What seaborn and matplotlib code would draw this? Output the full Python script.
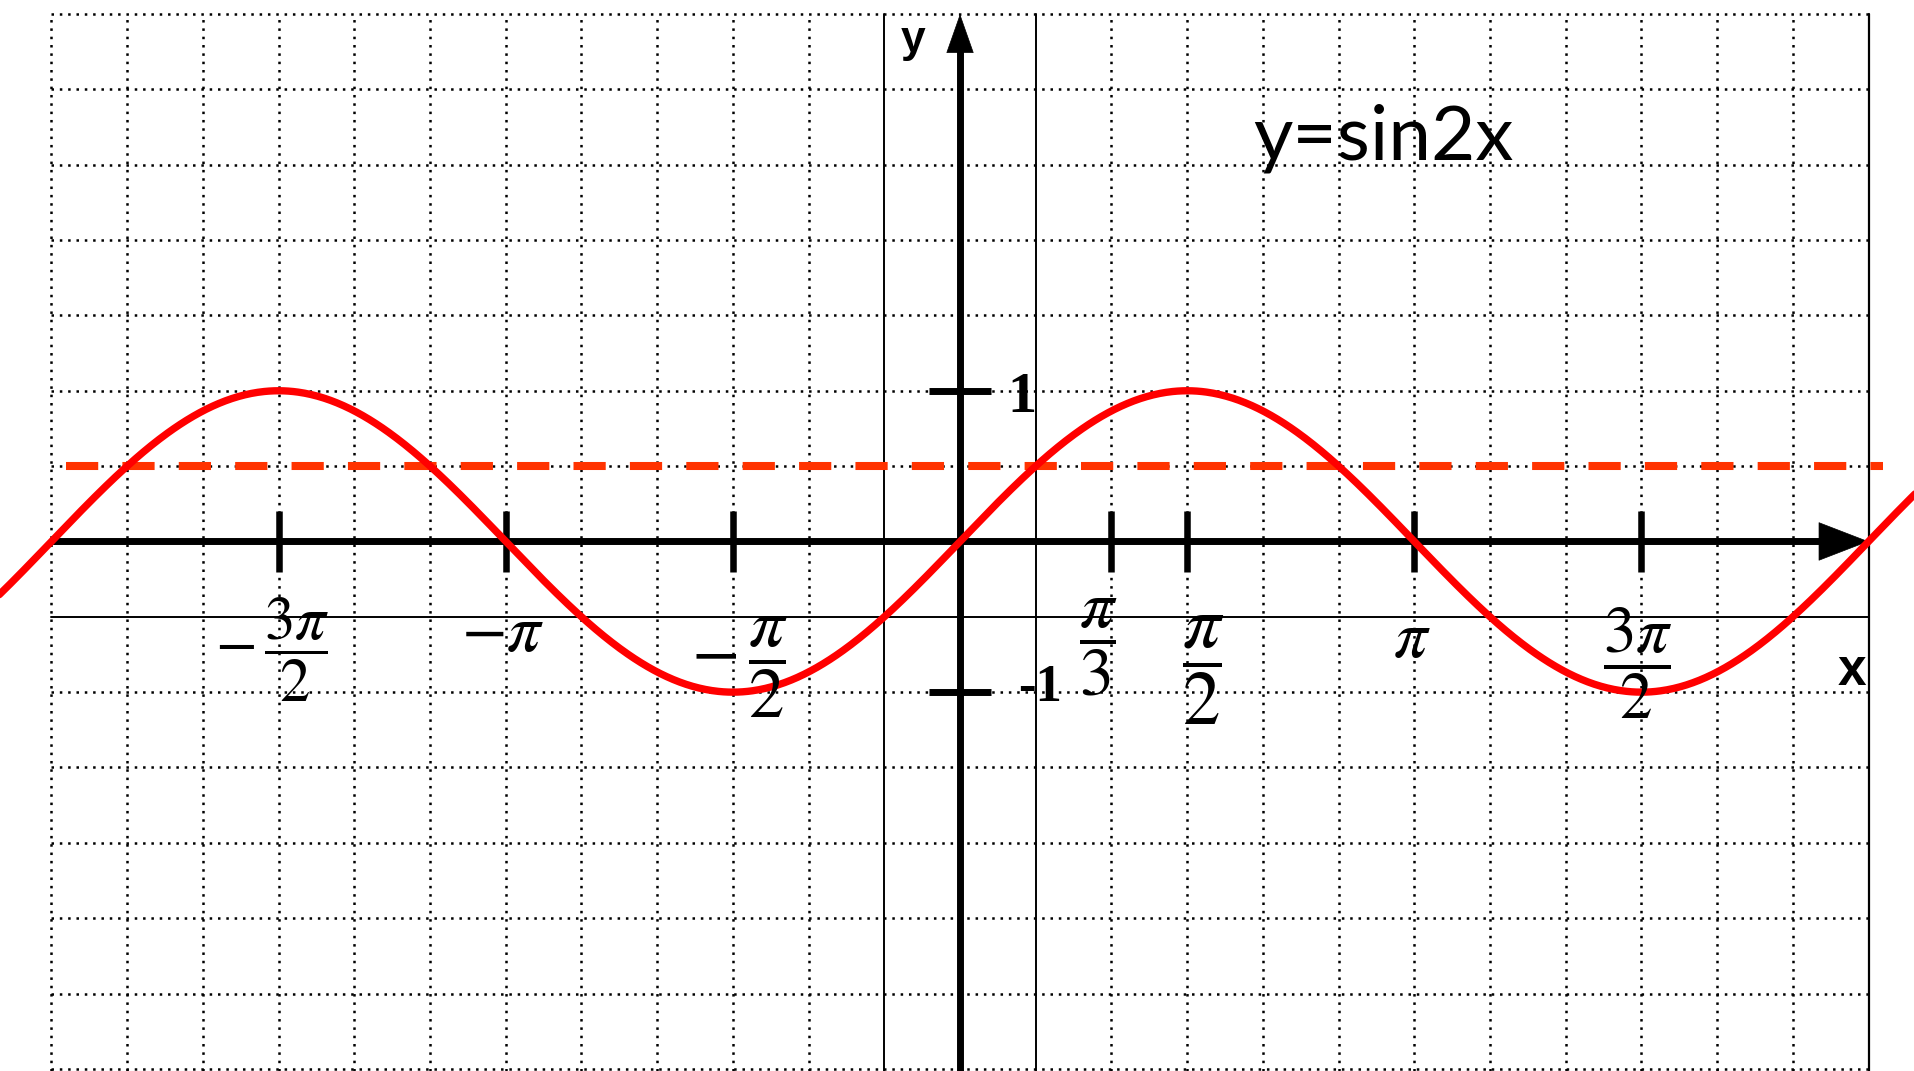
import numpy as np
import pandas as pd
import matplotlib
matplotlib.use("Agg")
import matplotlib.pyplot as plt
import seaborn as sns

# ---------------- data ----------------
PI = np.pi
x_tick_positions = [-3 * PI / 2, -PI, -PI / 2, PI / 3, PI / 2, PI, 3 * PI / 2]
x_tick_labels = [r'$-\,\dfrac{3\pi}{2}$', r'$-\pi$', r'$-\,\dfrac{\pi}{2}$', r'$\dfrac{\pi}{3}$',
                 r'$\dfrac{\pi}{2}$', r'$\pi$', r'$\dfrac{3\pi}{2}$']
y_tick_positions = [1, -1]
y_tick_labels = ['1', '-1']
level_value = 0.5                     # dashed horizontal line y = 1/2
title_text = 'y=sin2x'
curve_x = np.linspace(-6.7, 6.7, 1200)
curve_y = np.sin(curve_x)             # the plotted sine curve
grid_x_step = PI / 6
grid_y_step = 0.5
grid_x_range = (-2 * PI, 2 * PI)
grid_y_range = (-3.5, 3.5)

# ---------------- style ----------------
sns.set_style("white")
plt.rcParams['font.family'] = ['DejaVu Sans']
plt.rcParams['mathtext.fontset'] = 'stix'

XMIN, XMAX = -6.639, 6.604
YMIN, YMAX = -3.514, 3.593

fig = plt.figure(figsize=(19.15, 10.71), dpi=100)
ax = fig.add_axes([0, 0, 1, 1])

dot = (0, (1, 2.33))
# dotted grid
gx = np.arange(-12, 13) * grid_x_step
gy = np.arange(-7, 8) * grid_y_step
solid_x = [-PI / 6, PI / 6]
for xv in gx:
    if abs(xv) < 1e-9 or any(abs(xv - s) < 1e-9 for s in solid_x) or abs(xv - 2 * PI) < 1e-9:
        continue
    ax.plot([xv, xv], [YMIN, grid_y_range[1]], color='black', lw=1.8, linestyle=dot, zorder=1)
for yv in gy:
    if abs(yv) < 1e-9 or abs(yv + 0.5) < 1e-9:
        continue
    ax.plot([grid_x_range[0], grid_x_range[1]], [yv, yv], color='black', lw=1.8, linestyle=dot, zorder=1)

# thin solid lines
for s in solid_x:
    ax.plot([s, s], [YMIN, grid_y_range[1]], color='black', lw=1.4, zorder=2)
ax.plot([2 * PI, 2 * PI], [YMIN, grid_y_range[1]], color='black', lw=1.6, zorder=2)
ax.plot([grid_x_range[0], grid_x_range[1]], [-0.5, -0.5], color='black', lw=1.4, zorder=2)

# main axes (thick) with arrows
ax.plot([-2 * PI, 2 * PI - 0.30], [0, 0], color='black', lw=5.0, solid_capstyle='butt', zorder=3)
ax.plot([0, 0], [YMIN, 3.5 - 0.22], color='black', lw=5.0, solid_capstyle='butt', zorder=3)
ax.annotate('', xy=(2 * PI, 0), xytext=(2 * PI - 0.5, 0),
            arrowprops=dict(arrowstyle='-|>,head_length=35,head_width=13.5', mutation_scale=1,
                            lw=0.5, color='black', shrinkA=0, shrinkB=0), zorder=3)
ax.annotate('', xy=(0, 3.5), xytext=(0, 3.0),
            arrowprops=dict(arrowstyle='-|>,head_length=27,head_width=9.5', mutation_scale=1,
                            lw=0.5, color='black', shrinkA=0, shrinkB=0), zorder=3)

# tick marks
ax.vlines(x_tick_positions, -0.2, 0.2, color='black', lw=4.7, zorder=3)
ax.hlines(y_tick_positions, -0.214, 0.214, color='black', lw=5.0, zorder=3)

# curve and dashed level line
df_curve = pd.DataFrame({'x': curve_x, 'y': curve_y})
sns.lineplot(data=df_curve, x='x', y='y', ax=ax, color='#ff0000', lw=5.3,
             sort=False, estimator=None, zorder=5)
df_level = pd.DataFrame({'x': [-6.18, 6.38], 'y': [level_value, level_value]})
sns.lineplot(data=df_level, x='x', y='y', ax=ax, color='#ff3300', lw=5.8,
             linestyle=(0, (4, 3)), sort=False, estimator=None, zorder=4)
ax.set_xlim(XMIN, XMAX)
ax.set_ylim(YMIN, YMAX)
ax.axis('off')

# x tick labels (fraction style): (dx, y, fontsize)
label_style = [(-0.046, -0.72, 44), (-0.019, -0.60, 48), (0.043, -0.833, 51), (-0.093, -0.70, 49),
               (0.110, -0.853, 54), (-0.016, -0.64, 48), (-0.023, -0.81, 47)]
for pos, lab, (dx, yy, fs) in zip(x_tick_positions, x_tick_labels, label_style):
    ax.text(pos + dx, yy, lab, ha='center', va='center', fontsize=fs, color='black', zorder=6)

# y tick labels
ax.text(0.33, y_tick_positions[0] - 0.046, y_tick_labels[0], ha='left', va='center',
        fontsize=42, fontweight='bold', family='Liberation Serif', color='black', zorder=6)
ax.text(0.40, y_tick_positions[1] + 0.028, y_tick_labels[1], ha='left', va='center',
        fontsize=38, fontweight='bold', family='Liberation Serif', color='black', zorder=6)

# axis letters
ax.text(-0.325, 3.248, 'y', ha='center', va='baseline', fontsize=32, fontweight='bold',
        family='Liberation Sans', color='black', zorder=6)
ax.text(6.169, -0.955, 'x', ha='center', va='baseline', fontsize=37, fontweight='bold',
        family='Liberation Sans', color='black', zorder=6)

# title
ax.text(2.925, 2.532, title_text, ha='center', va='baseline', fontsize=55,
        family='Lato', color='black', zorder=6)

fig.savefig('out.png', dpi=100)
